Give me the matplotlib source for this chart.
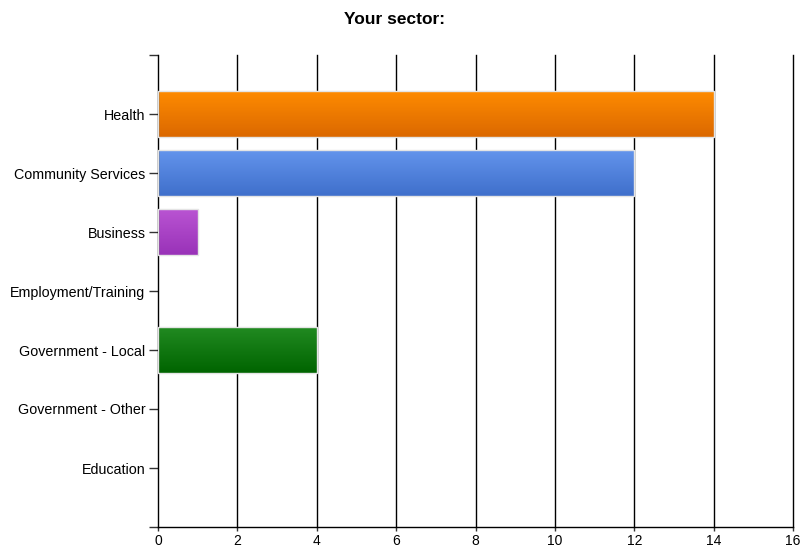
import numpy as np
import matplotlib
matplotlib.use("Agg")
import matplotlib.pyplot as plt
from matplotlib.colors import LinearSegmentedColormap

plt.rcParams['font.family'] = ['Liberation Sans', 'DejaVu Sans']

categories = ["Health", "Community Services", "Business", "Employment/Training",
              "Government - Local", "Government - Other", "Education"]
counts = [14, 12, 1, 0, 4, 0, 0]
# (top colour, bottom colour) for each bar's vertical gradient
gradients = [("#ff8c00", "#db6800"),
             ("#6495ed", "#3f6fcb"),
             ("#ba55d3", "#9932b8"),
             ("#888888", "#666666"),
             ("#228b22", "#006400"),
             ("#888888", "#666666"),
             ("#888888", "#666666")]
x_ticks = [0, 2, 4, 6, 8, 10, 12, 14, 16]

fig = plt.figure(figsize=(8.02, 5.47), dpi=100)
ax = fig.add_axes([158 / 802, 1 - 527 / 547, (793 - 158) / 802, (527 - 55) / 547])

positions = np.arange(1, len(categories) + 1)
bars = ax.barh(positions, counts, height=0.79, color="none",
               edgecolor="#e4e4e4", linewidth=1.0, zorder=3)

grad = np.linspace(0, 1, 256).reshape(-1, 1)
for bar, (c_top, c_bot), v in zip(bars, gradients, counts):
    if v <= 0:
        bar.set_visible(False)
        continue
    cmap = LinearSegmentedColormap.from_list("g", [c_top, c_bot])
    x0, y0 = bar.get_x(), bar.get_y()
    w, h = bar.get_width(), bar.get_height()
    im = ax.imshow(grad, cmap=cmap, aspect="auto", interpolation="bilinear",
                   extent=[x0, x0 + w, y0 + h, y0], zorder=2.5)
    im.set_clip_path(bar)

ax.set_xlim(0, 16)
ax.set_ylim(8, 0)
ax.set_xticks(x_ticks)
ax.set_xticklabels([str(t) for t in x_ticks])
ax.set_yticks(np.arange(0, len(categories) + 2))
ax.set_yticklabels([""] + categories + [""])

for t in x_ticks[1:]:
    ax.axvline(t, color="#000000", linewidth=1.0, zorder=1, clip_on=False)

for side in ("top", "right"):
    ax.spines[side].set_visible(False)
for side in ("left", "bottom"):
    ax.spines[side].set_color("#000000")
    ax.spines[side].set_linewidth(1.0)

ax.tick_params(axis="y", length=6.5, width=1, color="#333333", labelsize=10.3, pad=2.5)
ax.tick_params(axis="x", length=3, width=1, color="#333333", labelsize=10, pad=2)

fig.text(395 / 802, 1 - 19 / 547, "Your sector:", ha="center", va="center",
         fontsize=12.5, fontweight="bold")

fig.savefig("out.png", dpi=100, facecolor="white")
